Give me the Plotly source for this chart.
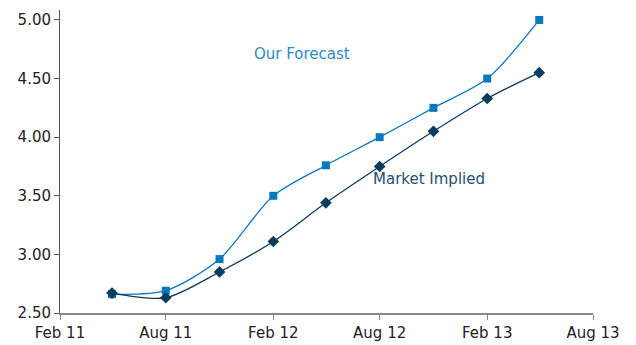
import plotly.graph_objects as go

# Quarterly observation dates
dates = ["2011-05-01", "2011-08-01", "2011-11-01", "2012-02-01", "2012-05-01",
         "2012-08-01", "2012-11-01", "2013-02-01", "2013-05-01"]

# Rate paths (%)
our_forecast = [2.66, 2.69, 2.96, 3.50, 3.76, 4.00, 4.25, 4.50, 5.00]
market_implied = [2.67, 2.63, 2.85, 3.11, 3.44, 3.75, 4.05, 4.33, 4.55]

# Axis ticks
x_tickvals = ["2011-02-01", "2011-08-01", "2012-02-01", "2012-08-01", "2013-02-01", "2013-08-01"]
x_ticktext = ["Feb 11", "Aug 11", "Feb 12", "Aug 12", "Feb 13", "Aug 13"]
y_tickvals = [2.5, 3.0, 3.5, 4.0, 4.5, 5.0]

FORECAST_COLOR = "#0a78bd"
MARKET_COLOR = "#0c3b5e"
FONT = "DejaVu Sans"

fig = go.Figure()

fig.add_trace(go.Scatter(
    x=dates, y=our_forecast, mode="lines+markers", name="Our Forecast",
    line=dict(color=FORECAST_COLOR, width=1.3, shape="spline", smoothing=0.8),
    marker=dict(symbol="square", size=8, color=FORECAST_COLOR),
))
fig.add_trace(go.Scatter(
    x=dates, y=market_implied, mode="lines+markers", name="Market Implied",
    line=dict(color=MARKET_COLOR, width=1.3, shape="spline", smoothing=0.8),
    marker=dict(symbol="diamond", size=9, color=MARKET_COLOR),
))

fig.add_annotation(x="2012-03-21", y=4.71, text="Our Forecast", showarrow=False,
                   font=dict(family=FONT, size=15, color="#2a8cc8"))
fig.add_annotation(x="2012-10-24", y=3.645, text="Market Implied", showarrow=False,
                   font=dict(family=FONT, size=15, color="#24506f"))

fig.update_layout(
    width=636, height=345,
    margin=dict(l=60, r=43, t=10, b=32, autoexpand=False),
    paper_bgcolor="white", plot_bgcolor="white",
    showlegend=False,
    font=dict(family=FONT, size=15, color="#222222"),
)

fig.update_xaxes(
    type="date", range=["2011-02-01", "2013-08-01"],
    tickvals=x_tickvals, ticktext=x_ticktext,
    showgrid=False, zeroline=False, automargin=False,
    showline=True, linecolor="#888888", linewidth=2,
    ticks="outside", ticklen=5, tickcolor="#888888", tickwidth=1,
)
fig.update_yaxes(
    range=[2.5, 5.085], tickvals=y_tickvals, tickformat=".2f",
    showgrid=False, zeroline=False, automargin=False,
    showline=True, linecolor="#555555", linewidth=1,
    ticks="outside", ticklen=5, tickcolor="#555555", tickwidth=1,
)

fig.write_html("out.html")
